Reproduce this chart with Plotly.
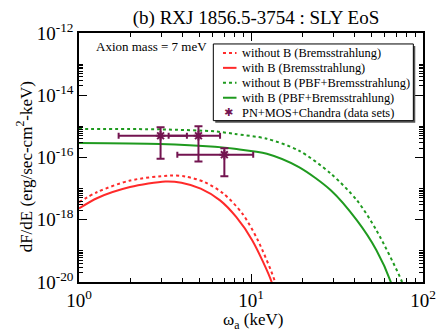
import plotly.graph_objects as go

# ---------------- data ----------------
e_red_solid = [1.0, 1.28, 1.98, 3.18, 3.94, 5.1, 6.61, 8.2, 10.16, 13.18, 13.8]
f_red_solid = [2.3e-18, 5.0e-18, 1.12e-17, 1.7e-17, 1.55e-17, 1.0e-17, 4.2e-18, 1.23e-18, 2.2e-19, 1.0e-20, 3.0e-21]

e_red_dot = [1.0, 1.28, 1.98, 3.39, 4.17, 5.37, 6.92, 8.91, 10.96, 13.8, 14.4]
f_red_dot = [3.7e-18, 7.8e-18, 1.82e-17, 2.63e-17, 2.45e-17, 1.62e-17, 6.9e-18, 1.58e-18, 2.2e-19, 1.0e-20, 3.0e-21]

e_green_solid = [1.0, 2.95, 6.17, 8.02, 12.36, 19.0, 29.2, 41.3, 53.6, 65.0, 68.0]
f_green_solid = [2.9e-16, 2.7e-16, 2.2e-16, 1.9e-16, 1.32e-16, 4.9e-17, 8.7e-18, 9.5e-19, 1.05e-19, 1.0e-20, 4.0e-21]

e_green_dot = [1.0, 3.0, 6.17, 8.02, 12.36, 19.0, 29.2, 41.3, 53.6, 75.5, 79.0]
f_green_dot = [8.3e-16, 8.0e-16, 6.9e-16, 5.75e-16, 4.0e-16, 1.66e-16, 3.0e-17, 4.2e-18, 4.6e-19, 1.0e-20, 4.0e-21]

obs_e = [2.98, 4.95, 7.0]
obs_e_low = [1.70, 3.32, 3.73]
obs_e_high = [4.24, 6.61, 10.3]
obs_f = [5.0e-16, 5.0e-16, 1.23e-16]
obs_f_low = [9.1e-17, 7.4e-17, 2.5e-17]
obs_f_high = [9.3e-16, 1.0e-15, 2.0e-16]

y_tick_exps = [-20, -18, -16, -14, -12]
x_tick_exps = [0, 1, 2]

legend_labels = ["without B (Bremsstrahlung)", "with B (Bremsstrahlung)",
                 "without B (PBF+Bremsstrahlung)", "with B (PBF+Bremsstrahlung)",
                 "PN+MOS+Chandra (data sets)"]

# ---------------- styling ----------------
RED = "#ff2a2a"
GREEN = "#1f9a1f"
PURPLE = "#731450"
FONT = "Liberation Serif"
W, H = 448, 331
OFF = 8  # default page body margin of the html page
PL, PR, PT, PB = 79, 435, 32, 282  # plot area in window pixels


def px(xp):
    return (xp - PL) / (PR - PL)


def py(yp):
    return (PB - yp) / (PB - PT)


fig = go.Figure()

line_styles = [(RED, "dot"), (RED, "solid"), (GREEN, "dot"), (GREEN, "solid")]
series = [(e_red_dot, f_red_dot), (e_red_solid, f_red_solid),
          (e_green_dot, f_green_dot), (e_green_solid, f_green_solid)]
for (xs, ys), (col, dash), name in zip(series, line_styles, legend_labels):
    fig.add_trace(go.Scatter(x=xs, y=ys, mode="lines", name=name, showlegend=False,
                             line=dict(color=col, width=2, dash=dash, shape="spline", smoothing=0.8)))

fig.add_trace(go.Scatter(
    x=obs_e, y=obs_f, mode="markers", name=legend_labels[4], showlegend=False,
    marker=dict(symbol="asterisk-open", size=8, color=PURPLE, line=dict(color=PURPLE, width=2)),
    error_x=dict(type="data", symmetric=False,
                 array=[h - c for h, c in zip(obs_e_high, obs_e)],
                 arrayminus=[c - l for c, l in zip(obs_e, obs_e_low)],
                 color=PURPLE, thickness=2, width=3),
    error_y=dict(type="data", symmetric=False,
                 array=[h - c for h, c in zip(obs_f_high, obs_f)],
                 arrayminus=[c - l for c, l in zip(obs_f, obs_f_low)],
                 color=PURPLE, thickness=2, width=4)))

y_minor = [n * 10.0 ** k for k in y_tick_exps[:-1] for n in range(2, 11)]
x_minor = [n * 10.0 ** k for k in x_tick_exps[:-1] for n in range(2, 10)]

axis_common = dict(type="log", showline=True, linecolor="black", linewidth=1.5,
                   mirror="ticks", ticks="inside", ticklen=8, tickwidth=1.2,
                   tickcolor="black", showgrid=False, zeroline=False,
                   tickfont=dict(family=FONT, size=19, color="black"))

fig.update_xaxes(**axis_common, range=[0, 2],
                 tickvals=[10.0 ** k for k in x_tick_exps],
                 ticktext=[f"10<sup>{k}</sup>" for k in x_tick_exps],
                 minor=dict(tickvals=x_minor, ticks="inside", ticklen=4, tickcolor="black", tickwidth=1))
fig.update_yaxes(**axis_common, range=[-20, -12],
                 tickvals=[10.0 ** k for k in y_tick_exps],
                 ticktext=[f"10<sup>{k}</sup>" for k in y_tick_exps],
                 minor=dict(tickvals=y_minor, ticks="inside", ticklen=4, tickcolor="black", tickwidth=1))

# axis titles
fig.add_annotation(text="ω<sub>a</sub> (keV)", xref="paper", yref="paper",
                   x=px(259), y=py(321), xanchor="center", yanchor="middle", showarrow=False,
                   font=dict(family=FONT, size=17, color="black"))
fig.add_annotation(text="dF/dE (erg/sec-cm<sup>2</sup>-keV)", xref="paper", yref="paper",
                   x=px(23), y=py(166), xanchor="center", yanchor="middle", showarrow=False,
                   textangle=-90, font=dict(family=FONT, size=17, color="black"))

fig.add_annotation(text="Axion mass = 7 meV", xref="paper", yref="paper",
                   x=px(95), y=py(46), xanchor="left", yanchor="middle", showarrow=False,
                   font=dict(family=FONT, size=13, color="black"))

# legend box (drawn manually to match the compact spacing)
LX0, LY0, LX1, LY1 = 218, 43, 425, 120
fig.add_shape(type="rect", xref="paper", yref="paper",
              x0=px(LX0 + 2), x1=px(LX1 + 2), y0=py(LY1 + 2), y1=py(LY0 + 2),
              line=dict(width=0), fillcolor="#555555", layer="above")
fig.add_shape(type="rect", xref="paper", yref="paper",
              x0=px(LX0), x1=px(LX1), y0=py(LY1), y1=py(LY0),
              line=dict(color="black", width=1), fillcolor="white", layer="above")
row_y = [52, 67, 82, 97, 112]
for i, label in enumerate(legend_labels):
    if i < 4:
        col, dash = line_styles[i]
        fig.add_shape(type="line", xref="paper", yref="paper",
                      x0=px(228), x1=px(242), y0=py(row_y[i]), y1=py(row_y[i]),
                      line=dict(color=col, width=2, dash=dash), layer="above")
    else:
        fig.add_annotation(text="✱", xref="paper", yref="paper",
                           x=px(234), y=py(row_y[i]), xanchor="center", yanchor="middle",
                           showarrow=False, font=dict(family="DejaVu Sans", size=11, color=PURPLE))
    fig.add_annotation(text=label, xref="paper", yref="paper",
                       x=px(246), y=py(row_y[i]), xanchor="left", yanchor="middle",
                       showarrow=False, font=dict(family=FONT, size=12.4, color="black"))

FW, FH = W - OFF, H - OFF
fig.update_layout(
    width=FW, height=FH,
    margin=dict(l=PL - OFF, r=W - PR, t=PT - OFF, b=H - PB),
    paper_bgcolor="white", plot_bgcolor="white",
    title=dict(text="(b) RXJ 1856.5-3754 : SLY EoS", x=(256 - OFF) / FW, xanchor="center",
               y=1 - (17 - OFF) / FH, yanchor="middle", font=dict(family=FONT, size=19, color="black")),
    showlegend=False,
)

fig.write_html("out.html")
